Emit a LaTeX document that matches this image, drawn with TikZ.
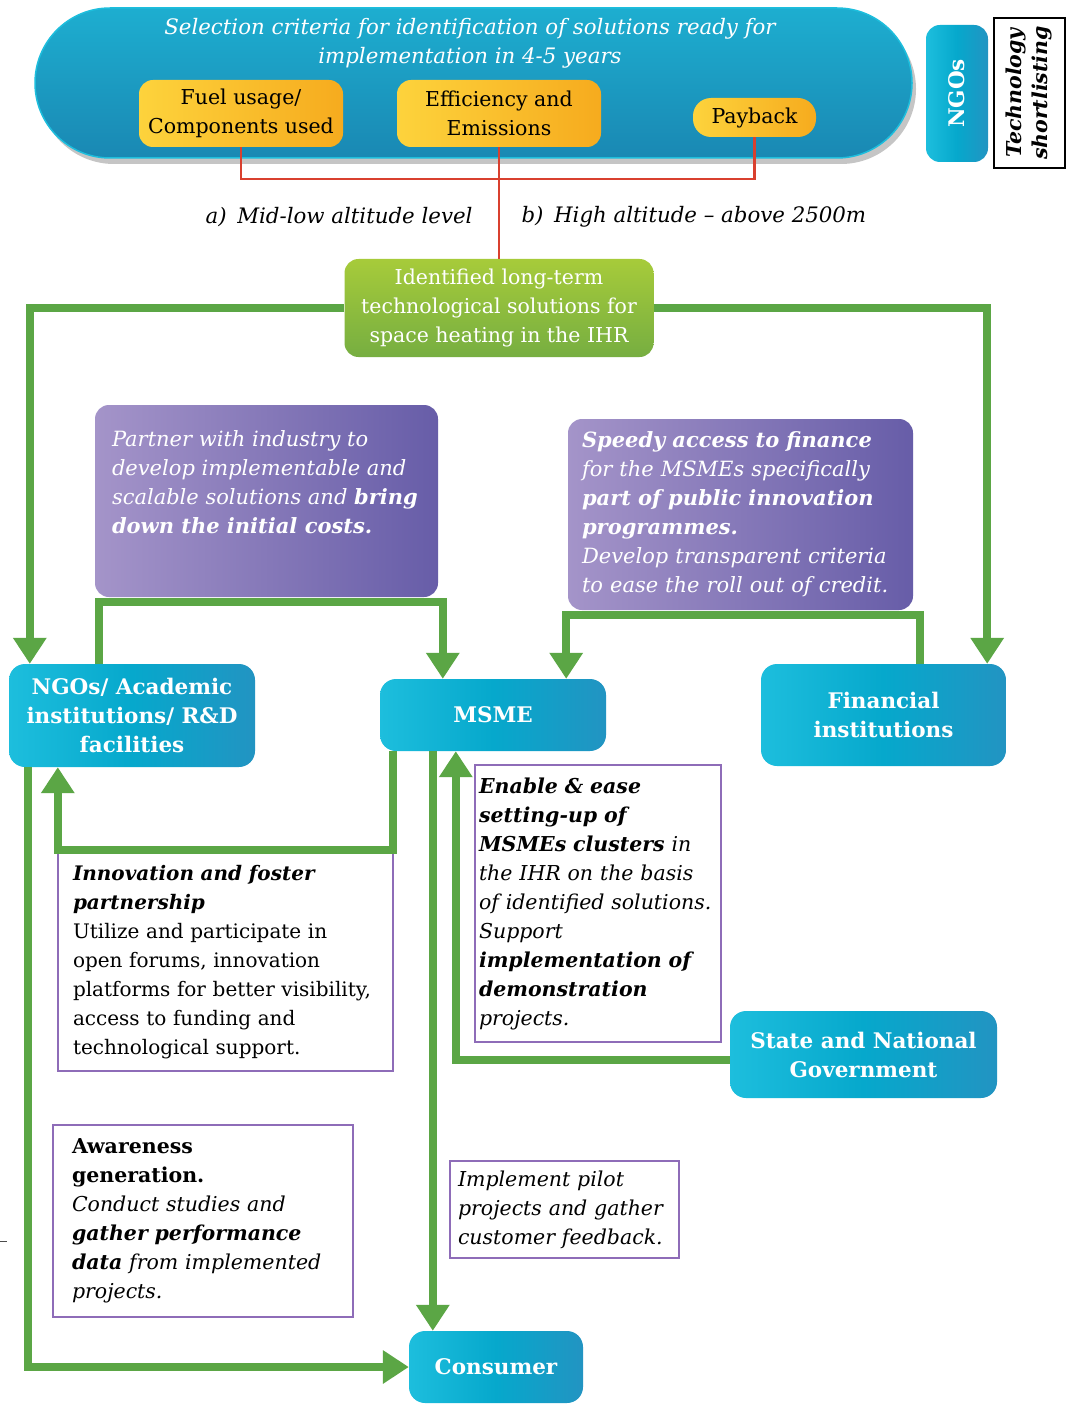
\documentclass[tikz,border=0pt]{standalone}
\usepackage{fontspec}
\setmainfont{DejaVu Serif}
\usepackage{xcolor}
\usepackage{tikz}
\usetikzlibrary{arrows.meta, positioning, shadows, calc}
\hyphenpenalty=10000
\exhyphenpenalty=10000

\definecolor{linkgreen}{HTML}{5BA645}
\definecolor{linkred}{HTML}{D9402F}
\definecolor{blueL}{HTML}{1DBEDD}
\definecolor{blueM}{HTML}{06A8CC}
\definecolor{blueR}{HTML}{2294C2}
\definecolor{pillT}{HTML}{1DAED0}
\definecolor{pillB}{HTML}{1A88B3}
\definecolor{yellowL}{HTML}{FDD33C}
\definecolor{yellowR}{HTML}{F6AB1E}
\definecolor{greenT}{HTML}{A7CB3A}
\definecolor{greenB}{HTML}{76AE41}
\definecolor{purpleL}{HTML}{A494C9}
\definecolor{purpleR}{HTML}{675DA8}
\definecolor{frame}{HTML}{8E6CB8}

\tikzset{
  txt/.style={font=\fontsize{20.5}{29}\selectfont},
  bluebox/.style={rounded corners=16pt, left color=blueL, right color=blueR, middle color=blueM,
    text=white, font=\bfseries\fontsize{21.5}{29}\selectfont, align=center, inner sep=2pt},
  yellowbox/.style={rounded corners=14pt, left color=yellowL, right color=yellowR,
    txt, align=center, inner sep=2pt},
  purplebox/.style={rounded corners=14pt, left color=purpleL, right color=purpleR,
    text=white, align=left, font=\itshape\fontsize{21}{29}\selectfont},
  framebox/.style={draw=frame, line width=1.6pt, fill=white, txt, align=left},
  link/.style={draw=linkgreen, line width=8pt, -{Triangle[length=26pt,width=32pt]}},
  redlink/.style={draw=linkred, line width=2.6pt},
}

\begin{document}
\begin{tikzpicture}[x=1pt, y=-1pt]
  \useasboundingbox[fill=white] (0,0) rectangle (1065,1415);

  % selection criteria
  \node[rounded corners=75pt, top color=pillT, bottom color=pillB, draw=blueL, line width=1.5pt,
        minimum width=877, minimum height=150,
        drop shadow={shadow xshift=4pt, shadow yshift=-6pt, opacity=0.45}] (pill) at (473.5,83) {};
  \node[text=white, font=\itshape\fontsize{21.3}{29}\selectfont, align=center] (crittext) at (470,43)
    {Selection criteria for identification of solutions ready for\\implementation in 4-5 years};
  \node[yellowbox, minimum width=204, minimum height=67] (fuel) at (241,113.5) {Fuel usage/\\Components used};
  \node[yellowbox, minimum width=204, minimum height=67] (effic) at (499,113.5) {Efficiency and\\Emissions};
  \node[yellowbox, minimum width=123, minimum height=39, rounded corners=18pt] (payback) at (754.5,117.5) {Payback};

  % side labels
  \node[bluebox, rounded corners=14pt, rotate=90, minimum width=137, minimum height=62] (ngosv) at (957,93.5) {NGOs};
  \node[draw=black, line width=2pt, rotate=90, minimum width=150, minimum height=71, inner sep=1pt,
        font=\bfseries\itshape\fontsize{20.5}{26}\selectfont, align=center] (techshort) at (1029,93) {Technology\\shortlisting};

  \node[font=\itshape\fontsize{21.3}{29}\selectfont, anchor=east] (lowalt) at (476,217) {a)\enspace Mid-low altitude level};
  \node[font=\itshape\fontsize{21.3}{29}\selectfont, anchor=west] (highalt) at (518,217) {b)\enspace High altitude -- above 2500m};

  % identified solutions
  \node[rounded corners=14pt, top color=greenT, bottom color=greenB, text=white, txt, align=center,
        minimum width=309, minimum height=98, inner sep=2pt] (solutions) at (499,308)
    {Identified long-term\\technological solutions for\\space heating in the IHR};

  % purple action boxes
  \node[purplebox, inner xsep=17pt, inner ysep=26pt] (partner) at (266.5,501)
    {\begin{minipage}[c][140pt][t]{309pt}\raggedright
      Partner with industry to\\develop implementable and\\scalable solutions and \textbf{bring}\\\textbf{down the initial costs.}
     \end{minipage}};
  \node[purplebox, text width=317, minimum width=345, minimum height=191, inner xsep=14pt, inner ysep=12pt] (finance) at (740.5,514.5)
    {\textbf{Speedy access to finance}\\for the MSMEs specifically\\\textbf{part of public innovation}\\\textbf{programmes.}\\Develop transparent criteria\\to ease the roll out of credit.};

  % actors
  \node[bluebox, minimum width=246, minimum height=103] (ngos) at (132,715.5) {NGOs/ Academic\\institutions/ R\&D\\facilities};
  \node[bluebox, minimum width=226, minimum height=72] (msme) at (493,715) {MSME};
  \node[bluebox, minimum width=245, minimum height=102] (fininst) at (883.5,715) {Financial\\institutions};
  \node[bluebox, minimum width=267, minimum height=87] (govt) at (863.5,1054.5) {State and National\\Government};
  \node[bluebox, minimum width=174, minimum height=72] (consumer) at (496,1367) {Consumer};

  % framed notes
  \node[framebox, font=\fontsize{20}{29}\selectfont, text width=305, minimum width=335, minimum height=218,
        inner xsep=15pt] (innov) at (225.5,962)
    {\textbf{\textit{Innovation and foster}}\\\textbf{\textit{partnership}}\\Utilize and participate in\\open forums, innovation\\platforms for better visibility,\\access to funding and\\technological support.};
  \node[framebox, font=\itshape\fontsize{20.5}{29}\selectfont, text width=238, minimum width=246, minimum height=277,
        inner xsep=4pt] (enable) at (598,903.5)
    {\textbf{Enable \& ease}\\\textbf{setting-up of}\\\textbf{MSMEs clusters} in\\the IHR on the basis\\of identified solutions.\\Support\\\textbf{implementation of}\\\textbf{demonstration}\\projects.};
  \node[framebox, text width=262, minimum width=300, minimum height=192, inner xsep=19pt] (aware) at (203,1221)
    {\textbf{Awareness}\\\textbf{generation.}\\\textit{Conduct studies and}\\\textbf{\textit{gather performance}}\\\textbf{\textit{data}} \textit{from implemented}\\\textit{projects.}};
  \node[framebox, font=\itshape\fontsize{20.5}{29}\selectfont, text width=213, minimum width=229, minimum height=97,
        inner xsep=8pt] (pilot) at (564.5,1209.5)
    {Implement pilot\\projects and gather\\customer feedback.};

  % red criteria links
  \draw[redlink] (fuel.south) -- ++(0,32) -| (payback.south);
  \draw[redlink] (effic.south) -- (solutions.north);

  % green links
  \draw[link] (solutions.west) -| ($(ngos.north west)+(21,0)$);
  \draw[link] (solutions.east) -| ($(fininst.north east)+(-19,0)$);
  \draw[link] ($(ngos.north west)+(90,0)$) -- ++(0,-62) -| ($(msme.north west)+(63,0)$);
  \draw[link] ($(fininst.north west)+(159,0)$) -- ++(0,-49) -| ($(msme.north east)+(-40,0)$);
  \draw[link] ($(msme.south west)+(13,0)$) -- ++(0,99) -| ($(ngos.south west)+(49,0)$);
  \draw[link] ($(msme.south west)+(53,0)$) -- ($(consumer.north west)+(24,0)$);
  \draw[link] ($(govt.west)+(0,5)$) -| ($(msme.south west)+(76,0)$);
  \draw[link] ($(ngos.south west)+(19,0)$) |- (consumer.west);

  \draw[black!70, line width=1pt] (0,1241) -- (7,1241);
\end{tikzpicture}
\end{document}
